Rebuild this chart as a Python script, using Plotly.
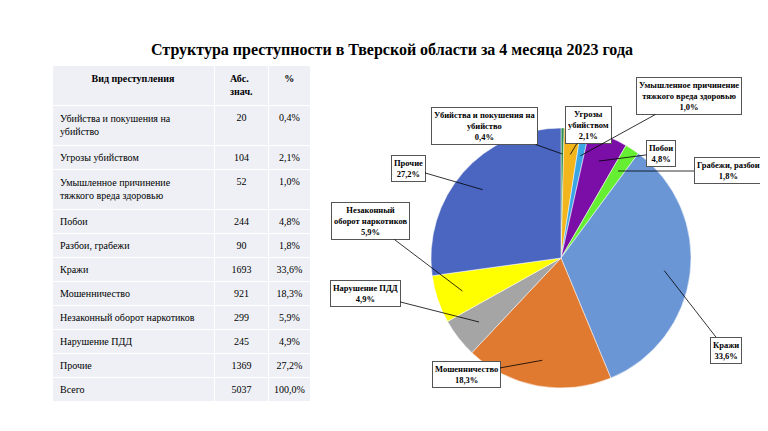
import math
import plotly.graph_objects as go

categories = ["Убийства и покушения на<br>убийство", "Угрозы убийством",
              "Умышленное причинение<br>тяжкого вреда здоровью", "Побои",
              "Разбои, грабежи", "Кражи", "Мошенничество",
              "Незаконный оборот наркотиков", "Нарушение ПДД", "Прочие"]
abs_values = [20, 104, 52, 244, 90, 1693, 921, 299, 245, 1369]
pct_labels = ["0,4%", "2,1%", "1,0%", "4,8%", "1,8%", "33,6%", "18,3%", "5,9%", "4,9%", "27,2%"]
total_abs = 5037
total_pct = "100,0%"

# pie order (clockwise from top)
pie_names = ["Убийства и покушения на<br>убийство", "Угрозы<br>убийством",
             "Умышленное причинение<br>тяжкого вреда здоровью", "Побои",
             "Грабежи, разбои", "Кражи", "Мошенничество", "Нарушение ПДД",
             "Незаконный<br>оборот наркотиков", "Прочие"]
pie_values = [20, 104, 52, 244, 90, 1693, 921, 245, 299, 1369]
pie_pct = ["0,4%", "2,1%", "1,0%", "4,8%", "1,8%", "33,6%", "18,3%", "4,9%", "5,9%", "27,2%"]
pie_colors = ["#2f8f4f", "#f2b51c", "#3aa6e6", "#7a0ea6", "#66ee33",
              "#6a96d6", "#e07a30", "#a5a5a5", "#ffff00", "#4a66c0"]
label_px = [(476, 118), (580, 117), (681, 88), (653, 145), (720, 163),
            (718, 342), (458, 366), (357, 285), (362, 213), (400, 160)]

W, H = 768, 431
fig = go.Figure()

fig.add_trace(go.Table(
    domain=dict(x=[44 / W, 302 / W], y=[1 - 406 / H, 1 - 57 / H]),
    columnwidth=[165, 55, 42],
    header=dict(values=["<b>Вид преступления</b>", "<b>Абс. знач.</b>", "<b>%</b>"],
                fill_color="#eef0f6", line_color="white", align="center",
                font=dict(family="Liberation Serif", size=10, color="black"), height=30),
    cells=dict(values=[categories + ["Всего"],
                       [str(v) for v in abs_values] + [str(total_abs)],
                       pct_labels + [total_pct]],
               fill_color="#eef0f6", line_color="white",
               align=["left", "center", "center"],
               font=dict(family="Liberation Serif", size=10, color="black"), height=24)))

cx, cy, r = 553, 250, 130
fig.add_trace(go.Pie(values=pie_values, labels=pie_names, sort=False, direction="clockwise",
                     marker=dict(colors=pie_colors, line=dict(color="white", width=0.5)),
                     textinfo="none", showlegend=False, hole=0,
                     domain=dict(x=[(cx - r) / W, (cx + r) / W], y=[1 - (cy + r) / H, 1 - (cy - r) / H])))

tot = sum(pie_values)
cum = 0
for name, v, p, (lx, ly) in zip(pie_names, pie_values, pie_pct, label_px):
    mid = (cum + v / 2) / tot * 2 * math.pi
    cum += v
    tx = cx + 0.8 * r * math.sin(mid)
    ty = cy - 0.8 * r * math.cos(mid)
    fig.add_annotation(x=tx / W, y=1 - ty / H, xref="paper", yref="paper",
                       ax=lx - tx, ay=ly - ty, axref="pixel", ayref="pixel",
                       text=f"<b>{name}<br>{p}</b>", showarrow=True, arrowhead=0,
                       arrowwidth=0.8, arrowcolor="black", bgcolor="white",
                       bordercolor="#555", borderwidth=1, borderpad=2,
                       font=dict(family="Liberation Serif", size=8.5, color="black"))

fig.add_annotation(x=0.5, y=1 - 42 / H, xref="paper", yref="paper", showarrow=False,
                   xanchor="center", yanchor="middle",
                   text="<b>Структура преступности в Тверской области за 4 месяца 2023 года</b>",
                   font=dict(family="Liberation Serif", size=16, color="black"))
fig.update_layout(width=W, height=H, margin=dict(l=0, r=0, t=0, b=0),
                  paper_bgcolor="white", plot_bgcolor="white")
fig.write_html("out.html")
